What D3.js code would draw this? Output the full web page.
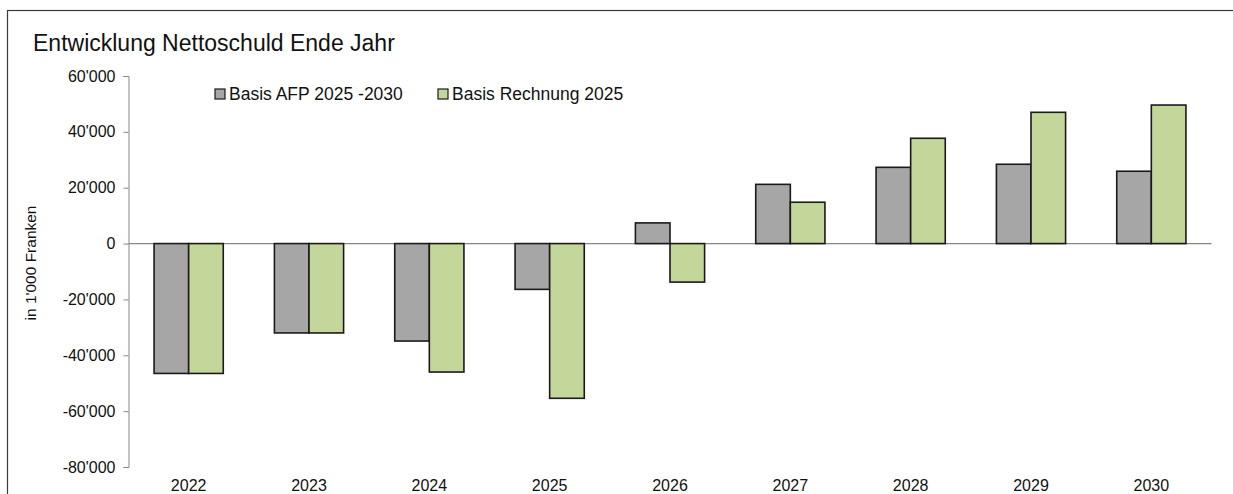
<!DOCTYPE html>
<html>
<head>
<meta charset="utf-8">
<script src="https://cdn.jsdelivr.net/npm/d3@7"></script>
<style>
  body { margin: 0; background: #fff; }
  svg { display: block; font-family: "Liberation Sans", Arial, sans-serif; }
</style>
</head>
<body>
<div id="chart"></div>
<script>
// data
var years = ["2022", "2023", "2024", "2025", "2026", "2027", "2028", "2029", "2030"]
var seriesNames = ["Basis AFP 2025 -2030", "Basis Rechnung 2025"]
var afpValues = [-46500, -32000, -34900, -16400, 7400, 21200, 27300, 28400, 25900]
var rechnungValues = [-46500, -32000, -46000, -55400, -13800, 14800, 37700, 47000, 49600]
var yTicks = [-80000, -60000, -40000, -20000, 0, 20000, 40000, 60000]

var colors = ["#a6a6a6", "#c4d79b"]

var width = 1233, height = 494
var margin = {top: 76, left: 128.5, right: 21.5, bottom: 27}

var svg = d3.select("#chart")
  .append("svg")
  .attr("width", width)
  .attr("height", height)

// outer frame
svg.append("rect")
  .attr("x", 7.5).attr("y", 10.5)
  .attr("width", 1300).attr("height", 600)
  .attr("fill", "none")
  .attr("stroke", "#3a3a3a")
  .attr("stroke-width", 1.2)

// title
svg.append("text")
  .attr("x", 33).attr("y", 51)
  .style("font-size", "23px")
  .attr("fill", "#111")
  .text("Entwicklung Nettoschuld Ende Jahr")

var x0 = d3.scaleBand()
  .domain(years)
  .range([margin.left, width - margin.right])
  .paddingInner(0).paddingOuter(0)

var groupW = x0.bandwidth() * 0.575
var x1 = d3.scaleBand()
  .domain([0, 1])
  .range([0, groupW])

var y = d3.scaleLinear()
  .domain([-80000, 60000])
  .range([467, 76])

var fmt = function(v) {
  return d3.format(",")(v).replace(/,/g, "'").replace("−", "-")
}

// y axis
var yAxis = svg.append("g")
  .attr("transform", "translate(" + margin.left + ",0)")
  .call(d3.axisLeft(y).tickValues(yTicks).tickSize(5).tickSizeOuter(5).tickPadding(8).tickFormat(fmt))
yAxis.select(".domain").attr("stroke", "#868686")
yAxis.selectAll(".tick line").attr("stroke", "#868686")
yAxis.selectAll("text").style("font-size", "16px").attr("fill", "#111")

// y label
svg.append("text")
  .attr("transform", "translate(36,263) rotate(-90)")
  .attr("text-anchor", "middle")
  .style("font-size", "15.5px")
  .attr("fill", "#111")
  .text("in 1'000 Franken")

// x labels at bottom
var xAxis = svg.append("g")
  .attr("transform", "translate(0," + y(-80000) + ")")
  .call(d3.axisBottom(x0).tickSize(0).tickPadding(13))
xAxis.select(".domain").remove()
xAxis.selectAll("text").style("font-size", "16px").attr("fill", "#111")

// zero line
svg.append("line")
  .attr("x1", margin.left).attr("x2", width - margin.right)
  .attr("y1", y(0)).attr("y2", y(0))
  .attr("stroke", "#868686")
  .attr("stroke-width", 1.2)

// bars
var barData = []
years.forEach(function(yr, i) {
  barData.push({year: yr, s: 0, value: afpValues[i]})
  barData.push({year: yr, s: 1, value: rechnungValues[i]})
})

var offset = (x0.bandwidth() - groupW) / 2
svg.append("g")
  .selectAll("rect")
  .data(barData)
  .enter()
  .append("rect")
    .attr("x", function(d) { return x0(d.year) + offset + x1(d.s) })
    .attr("width", x1.bandwidth())
    .attr("y", function(d) { return Math.min(y(d.value), y(0)) })
    .attr("height", function(d) { return Math.abs(y(d.value) - y(0)) })
    .attr("fill", function(d) { return colors[d.s] })
    .attr("stroke", "#1a1a1a")
    .attr("stroke-width", 1.6)

// legend
var legendX = [215, 438]
var legend = svg.append("g")
  .selectAll("g")
  .data(seriesNames)
  .enter()
  .append("g")
    .attr("transform", function(d, i) { return "translate(" + legendX[i] + ",89)" })
legend.append("rect")
  .attr("width", 10).attr("height", 10)
  .attr("fill", function(d, i) { return colors[i] })
  .attr("stroke", "#1a1a1a")
  .attr("stroke-width", 1.2)
legend.append("text")
  .attr("x", 14).attr("y", 11)
  .style("font-size", "17.5px")
  .attr("fill", "#111")
  .text(function(d) { return d })
</script>
</body>
</html>
